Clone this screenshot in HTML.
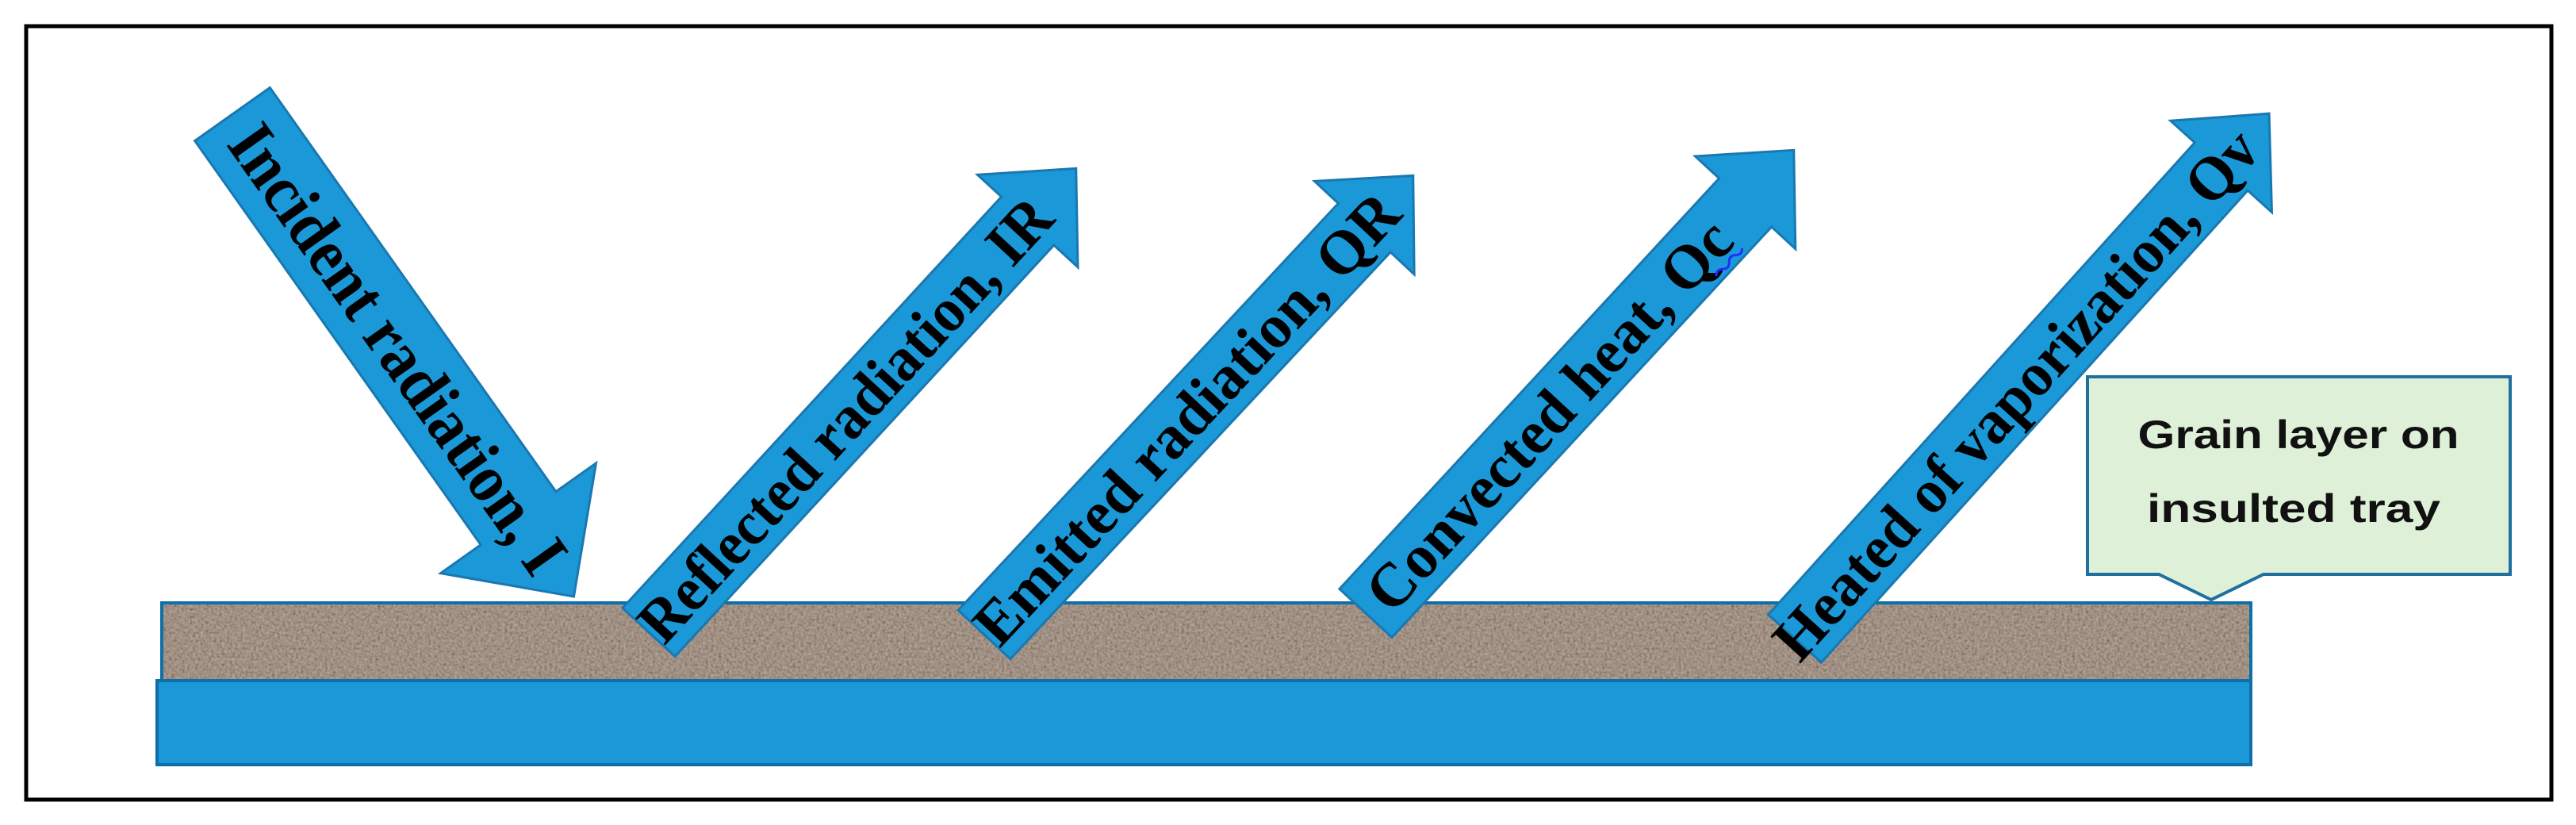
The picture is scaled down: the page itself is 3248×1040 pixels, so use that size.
<!DOCTYPE html>
<html><head><meta charset="utf-8"><style>html,body{margin:0;padding:0;background:#fff}svg{display:block}</style></head>
<body>
<svg width="3248" height="1040" viewBox="0 0 3248 1040" xmlns="http://www.w3.org/2000/svg">
<defs>
<filter id="grain" x="0" y="0" width="100%" height="100%">
<feTurbulence type="fractalNoise" baseFrequency="0.3" numOctaves="2" seed="3" result="n"/>
<feColorMatrix in="n" type="matrix" values="1 0 0 0 -0.1  1 0 0 0 -0.15  1 0 0 0 -0.2  0 0 0 0 1" result="c"/>
<feComposite in="c" in2="SourceGraphic" operator="in"/>
</filter>
</defs>
<rect x="0" y="0" width="3248" height="1040" fill="#fff"/>
<rect x="33" y="33" width="3184" height="975" fill="none" stroke="#000" stroke-width="5"/>

<!-- tray -->
<rect x="198" y="858" width="2640" height="106" fill="#1a98d8" stroke="#0f6fa8" stroke-width="4"/>
<rect x="204" y="760" width="2634" height="98" fill="#9c887b" stroke="#0f6fa8" stroke-width="4"/>
<rect x="206" y="762" width="2630" height="94" fill="#8a786c" filter="url(#grain)" opacity="0.35"/>

<g font-family="'Liberation Serif', serif" font-weight="bold" fill="#000">
<!-- Incident -->
<g transform="translate(293,144) rotate(54.7)">
<polygon points="0,-58 624,-58 624,-120 745,0 624,120 624,58 0,58" fill="#1a98d8" stroke="#1a78b0" stroke-width="3"/>
<text x="26" y="0" dominant-baseline="central" font-size="86" textLength="672" lengthAdjust="spacingAndGlyphs">Incident  radiation, I</text>
</g>
<!-- Reflected -->
<g transform="translate(818,797) rotate(-47.34)">
<polygon points="0,-45 705,-45 705,-86 795,0 705,86 705,45 0,45" fill="#1a98d8" stroke="#1a78b0" stroke-width="3"/>
<text x="0" y="0" dominant-baseline="central" font-size="78" textLength="730" lengthAdjust="spacingAndGlyphs">Reflected radiation, IR</text>
</g>
<!-- Emitted -->
<g transform="translate(1241,800) rotate(-46.94)">
<polygon points="0,-45 702,-45 702,-86 792,0 702,86 702,45 0,45" fill="#1a98d8" stroke="#1a78b0" stroke-width="3"/>
<text x="0" y="0" dominant-baseline="central" font-size="78" textLength="747" lengthAdjust="spacingAndGlyphs">Emitted  radiation, QR</text>
</g>
<!-- Convected -->
<g transform="translate(1722,773) rotate(-47.24)">
<polygon points="0,-45 705,-45 705,-86 795,0 705,86 705,45 0,45" fill="#1a98d8" stroke="#1a78b0" stroke-width="3"/>
<text x="20" y="0" dominant-baseline="central" font-size="78" textLength="640" lengthAdjust="spacingAndGlyphs">Convected heat, Qc</text>
<path d="M612,36 q6,-6 12,0 t12,0 t12,0 t12,0" fill="none" stroke="#2030ff" stroke-width="3"/>
</g>
<!-- Heated -->
<g transform="translate(2263,805) rotate(-47.9)">
<polygon points="0,-45 802,-45 802,-86 892,0 802,86 802,45 0,45" fill="#1a98d8" stroke="#1a78b0" stroke-width="3"/>
<text x="-20" y="0" dominant-baseline="central" font-size="78" textLength="870" lengthAdjust="spacingAndGlyphs">Heated of vaporization, Qv</text>
</g>
</g>

<!-- callout -->
<polygon points="2632,475 3165,475 3165,724 2854,724 2788,756 2722,724 2632,724" fill="#dff0d8" stroke="#1f6fa0" stroke-width="4"/>
<g font-family="'Liberation Sans', sans-serif" font-weight="bold" font-size="50" fill="#111" text-anchor="middle">
<text x="2898" y="565" textLength="405" lengthAdjust="spacingAndGlyphs">Grain layer on</text>
<text x="2892" y="658" textLength="370" lengthAdjust="spacingAndGlyphs">insulted tray</text>
</g>
</svg>
</body></html>
